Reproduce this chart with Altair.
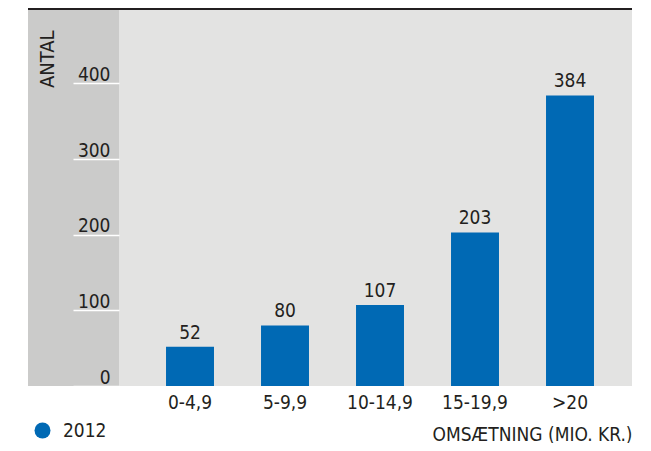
import altair as alt
import pandas as pd

categories = ["0-4,9", "5-9,9", "10-14,9", "15-19,9", ">20"]
values = [52, 80, 107, 203, 384]
years = ["2012"] * 5
y_ticks = [0, 100, 200, 300, 400]

FONT = "'DejaVu Sans Condensed', 'Roboto Condensed', 'Liberation Sans Narrow', 'Arial Narrow', Roboto, sans-serif"
TXT = "#231f20"
BLUE = "#0069b4"
W, H = 513, 376

df = pd.DataFrame({"cat": categories, "value": values, "year": years})

x_enc = alt.X(
    "cat:N", sort=categories,
    scale=alt.Scale(paddingInner=0.495, paddingOuter=0.4475, align=0.553),
    axis=alt.Axis(
        domain=False, ticks=False, tickSize=0, grid=False, labelAngle=0,
        labelFont=FONT, labelFontSize=19, labelColor=TXT, labelPadding=7,
        title="OMSÆTNING (MIO. KR.)", titleFont=FONT, titleFontSize=19,
        titleFontWeight="normal", titleColor=TXT, titleX=W, titleY=54,
        titleAlign="right", titleBaseline="alphabetic",
    ),
)
y_enc = alt.Y(
    "value:Q",
    scale=alt.Scale(domain=[0, 497], nice=False, zero=True),
    axis=alt.Axis(
        values=y_ticks, domain=False, grid=False, tickSize=46,
        tickColor="white", tickWidth=1.5, labelAlign="right",
        labelBaseline="alphabetic", labelPadding=-37, labelOffset=-3,
        labelFlush=False, labelFont=FONT, labelFontSize=19, labelColor=TXT,
        title="ANTAL", titleFont=FONT, titleFontSize=20, titleFontWeight="normal",
        titleColor=TXT, titleAngle=270, titleX=-65.7, titleY=20,
        titleAlign="right", titleBaseline="alphabetic", zindex=1,
    ),
)

band = alt.Chart(alt.Data(values=[{}])).mark_rect(color="#cbcbca", clip=False).encode(
    x=alt.value(-91), x2=alt.value(0), y=alt.value(0), y2=alt.value(H)
)
top_rule = alt.Chart(alt.Data(values=[{}])).mark_rule(color=TXT, strokeWidth=2, clip=False).encode(
    x=alt.value(-91), x2=alt.value(W), y=alt.value(-1)
)

bars = alt.Chart(df).mark_bar().encode(
    x=x_enc, y=y_enc,
    color=alt.Color(
        "year:N", scale=alt.Scale(range=[BLUE]),
        legend=alt.Legend(
            orient="none", legendX=-86, legendY=411, title=None,
            symbolType="circle", symbolSize=255, symbolStrokeWidth=0,
            labelFont=FONT, labelFontSize=19, labelColor=TXT, labelOffset=11,
            padding=0,
        ),
    ),
)
labels = alt.Chart(df).mark_text(
    dy=-8, baseline="alphabetic", font=FONT, fontSize=19, color=TXT
).encode(x=x_enc, y=y_enc, text="value:Q")

chart = alt.layer(band, top_rule, bars, labels).properties(
    width=W, height=H,
    autosize=alt.AutoSizeParams(type="none"),
    padding={"left": 111, "top": 2, "right": 11, "bottom": 57},
    background="white",
).configure_view(stroke=None, fill="#e3e3e2")

chart.save("out.html", embed_options={"renderer": "svg", "actions": False})
